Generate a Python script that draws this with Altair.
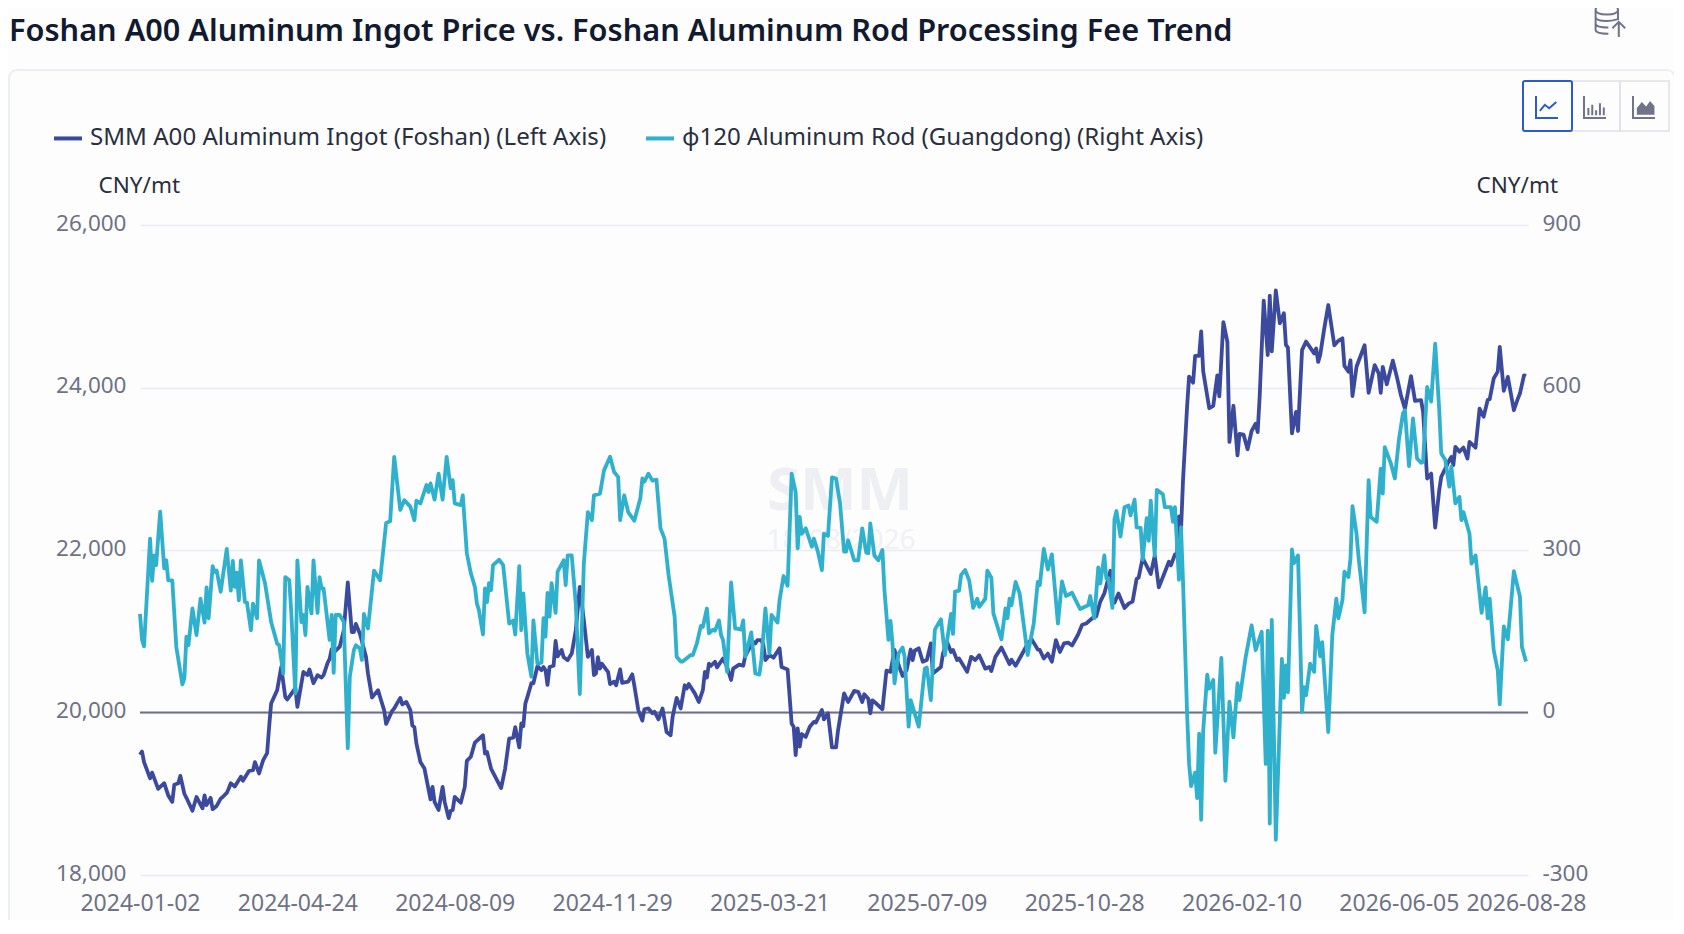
import altair as alt
import pandas as pd

TITLE = "Foshan A00 Aluminum Ingot Price vs. Foshan Aluminum Rod Processing Fee Trend"
INGOT = "SMM A00 Aluminum Ingot (Foshan) (Left Axis)"
ROD = "φ120 Aluminum Rod (Guangdong) (Right Axis)"
UNIT = "CNY/mt"
FONT = "Noto Sans"

tick_idx = [0, 78, 156, 234, 312, 390, 468, 546, 624, 687]
tick_labels = ["2024-01-02", "2024-04-24", "2024-08-09", "2024-11-29", "2025-03-21",
               "2025-07-09", "2025-10-28", "2026-02-10", "2026-06-05", "2026-08-28"]
left_ticks = [18000, 20000, 22000, 24000, 26000]
left_labels = ["18,000", "20,000", "22,000", "24,000", "26,000"]
right_ticks = [-300, 0, 300, 600, 900]
right_labels = ["-300", "0", "300", "600", "900"]

price_idx = [0,1,2,5,6,9,12,14,16,17,19,20,22,23,26,28,31,32,33,35,36,38,40,41,43,44,45,47,50,51,54,56,57,59,61,63,64,65,68,70,72,73,75,77,78,81,83,84,86,88,90,91,93,94,95,97,99,101,103,105,106,107,109,
112,113,115,118,119,121,122,125,126,129,130,132,134,135,136,137,139,141,144,145,146,148,150,151,153,154,155,156,159,161,162,164,166,170,171,172,174,179,181,183,185,186,188,189,190,191,192,194,195,197,199,200,201,202,203,205,206,207,209,210,212,214,216,218,220,222,224,225,
226,227,228,229,231,232,233,235,236,238,239,242,244,245,247,249,250,252,254,255,257,259,261,263,264,266,268,270,271,272,275,277,279,280,281,282,283,285,286,289,291,293,294,297,299,300,302,303,305,306,308,309,310,312,314,317,318,321,323,324,325,326,327,328,330,332,334,335,338,339,341,343,
345,346,349,351,354,356,358,359,361,362,363,365,368,370,372,374,376,378,380,382,383,384,386,388,390,392,393,397,398,400,402,403,405,406,410,412,414,416,419,421,422,424,427,431,432,434,436,439,440,442,445,446,448,450,452,454,456,458,
460,462,465,467,469,472,474,476,478,481,482,483,485,488,490,492,494,495,497,501,503,505,510,511,513,514,515,516,517,519,520,522,523,525,526,527,530,532,534,535,537,539,540,542,544,545,547,549,551,553,554,555,557,559,560,561,563,565,567,568,569,
571,573,574,576,578,582,583,584,585,587,589,592,594,596,597,599,600,601,603,607,609,612,614,615,616,618,621,623,625,627,630,632,635,636,638,640,642,644,645,649,650,651,652,654,656,658,659,662,664,666,668,669,671,673,674,676,678,681,683,684,686,687]

price_val = [19480,19520,19390,19190,19260,19060,19130,18980,18900,19110,19130,19220,19000,18950,18790,18960,18820,18980,18860,18950,18810,18850,18940,18960,19010,19065,19130,19090,19210,19160,19280,19290,19390,19250,19410,19500,19820,20110,20275,20560,20190,20160,20230,20300,20070,20500,20460,20530,20360,20460,20430,20460,20610,20660,20780,20760,20810,21010,21600,20990,20990,21090,20970,
20690,20480,20185,20275,20190,20030,19860,20020,20050,20180,20100,20130,20030,19840,19820,19620,19390,19310,18930,19085,18900,18800,19085,18900,18700,18790,18800,18960,18890,19085,19405,19455,19630,19720,19495,19515,19310,19070,19310,19680,19690,19820,19570,19865,19830,20110,20190,20360,20360,20570,20520,20560,20520,20340,20560,20575,20880,20690,20770,20680,20645,20725,21010,21545,21135,20685,20770,20460,
20480,20680,20540,20600,20530,20500,20350,20380,20335,20530,20365,20380,20470,20335,20030,19900,20040,20050,19990,20010,19915,20050,19760,19720,19945,20180,20050,20335,20295,20350,20235,20130,20275,20500,20430,20600,20575,20625,20555,20665,20560,20400,20540,20590,20575,20695,20790,20890,20850,20890,20890,20830,20645,20705,20675,20790,20560,20530,19865,19825,19475,19805,19580,19735,19700,19825,19885,19875,20030,19915,19990,19570,
19570,19780,20235,20130,20265,20255,20130,20225,20170,19990,20150,20110,20040,20515,20500,20770,20585,20450,20520,20775,20645,20760,20790,20625,20645,20850,20480,20560,20725,20870,20745,20770,20645,20665,20500,20685,20645,20705,20540,20560,20510,20685,20800,20595,20650,20575,20665,20800,20850,20900,20775,20770,20665,20725,20625,20890,20745,20850,
20860,20825,20960,21080,21095,21160,21185,21365,21465,21745,21385,21350,21465,21285,21340,21365,21645,21660,21900,21705,21930,21540,21855,21810,21945,21945,22415,22235,22860,23755,24135,24060,24390,24390,24690,24200,23745,23775,24150,23890,24805,24560,23330,23775,23165,23430,23420,23240,23465,23555,23450,23890,25070,24400,25130,24445,25195,24790,24915,24525,24490,
23435,23700,23465,24460,24565,24420,24480,24315,24400,24725,25015,24520,24575,24605,24265,24195,24335,23895,24255,24520,23935,24275,24175,23935,24255,24040,24330,24130,23905,23740,24140,23835,23845,23700,22880,22940,22275,22735,22900,23105,23145,23045,23270,23210,23260,23125,23330,23260,23740,23640,23845,23855,24110,24195,24500,23960,24130,23720,23865,23925,24150,24140]

fee_idx = [0,1,2,5,6,7,8,10,12,13,14,16,18,21,22,23,24,26,28,30,32,33,34,36,37,38,40,43,45,46,47,48,49,50,52,53,55,56,58,59,62,65,68,69,71,72,74,75,77,78,80,81,82,83,85,86,88,89,90,91,94,95,96,97,99,101,103,104,106,107,109,110,111,113,116,
119,122,124,126,129,131,134,136,137,139,142,143,144,146,148,150,152,154,155,156,159,160,162,164,166,167,168,170,171,172,173,174,175,178,180,183,185,186,188,189,190,192,194,195,197,199,200,201,202,203,204,206,207,210,211,212,214,216,218,220,222,224,225,
228,230,233,235,237,238,240,242,245,248,249,250,252,254,256,258,260,262,265,266,268,269,273,274,276,278,279,281,282,284,285,287,288,289,291,293,295,296,298,299,300,303,305,307,308,310,312,313,316,317,319,321,323,325,326,327,328,330,333,334,336,338,339,341,343,
345,347,349,350,351,354,356,358,360,361,362,364,366,368,369,371,372,373,374,376,378,379,381,382,386,389,390,392,394,397,399,402,403,404,406,407,409,411,413,415,416,419,420,422,423,427,429,430,431,432,434,436,440,443,445,446,448,450,452,455,
457,459,462,466,470,471,473,475,476,478,479,480,482,483,484,486,488,490,491,493,494,496,497,499,500,501,503,504,507,508,511,512,513,515,516,517,519,520,521,523,524,525,526,527,529,530,532,533,536,538,540,542,544,545,548,551,553,556,558,559,560,561,563,566,567,568,569,
571,572,574,576,577,578,580,582,583,585,586,589,591,593,594,596,597,599,600,601,603,604,607,609,610,613,615,616,617,620,622,624,626,627,629,631,633,635,636,638,640,642,644,645,647,649,650,652,654,655,656,659,660,662,665,667,668,669,671,673,674,676,678,681,684,685,687]

fee_val = [182,134,122,321,243,290,272,371,266,281,244,244,121,52,63,140,124,192,143,210,166,231,174,270,260,262,223,302,225,280,232,258,207,281,204,203,152,201,174,281,238,167,127,124,72,250,244,183,35,281,167,180,143,232,183,281,184,250,229,229,134,180,73,180,180,167,-66,66,115,124,118,97,182,155,262,
244,350,353,472,374,392,380,355,391,386,420,407,423,393,441,393,472,414,429,386,383,401,294,257,232,201,189,144,229,204,239,226,272,282,272,164,170,144,270,152,220,109,66,170,90,92,174,140,221,177,239,184,260,281,235,290,290,201,34,275,370,355,401,
404,447,472,444,435,355,401,370,354,395,432,426,441,428,430,340,321,254,177,103,94,94,106,106,127,160,158,192,146,153,151,170,143,134,75,240,155,155,153,170,103,148,72,70,97,192,109,180,166,207,252,234,441,407,303,361,330,340,306,321,297,263,330,326,434,
432,386,297,297,318,281,281,340,295,294,349,290,281,300,226,134,169,127,54,109,120,103,-26,23,-26,81,83,23,153,172,106,182,145,223,225,254,263,244,193,210,195,210,262,249,183,135,192,174,210,198,241,220,106,164,241,235,302,264,292,164,
242,215,221,191,198,215,174,268,238,290,247,248,193,356,372,325,379,382,364,393,342,341,282,359,317,391,289,411,403,379,379,352,379,245,342,242,0,-94,-136,-111,-158,-39,-198,-34,70,44,60,-74,101,-126,20,-46,54,23,101,161,115,149,-95,151,-205,171,-235,99,27,87,37,
301,276,290,1,47,32,90,75,160,104,130,-36,143,210,174,207,260,250,284,381,330,287,185,429,361,352,450,404,490,460,432,503,552,558,455,543,469,461,463,601,574,681,558,478,466,417,454,386,398,355,370,330,275,290,184,231,174,210,115,78,15,159,135,261,214,121,94]

n = min(len(price_idx), len(price_val))
m = min(len(fee_idx), len(fee_val))
price_df = pd.DataFrame({"idx": price_idx[:n], "value": price_val[:n], "series": INGOT})
fee_df = pd.DataFrame({"idx": fee_idx[:m], "value": fee_val[:m], "series": ROD})
one = pd.DataFrame({"a": [0]})


def label_map(keys, labels):
    return "{" + ",".join(f"'{k}':'{t}'" for k, t in zip(keys, labels)) + "}[''+datum.value]"


x_enc = alt.X("idx:Q", scale=alt.Scale(domain=[0, 688], nice=False, zero=False),
              axis=alt.Axis(values=tick_idx, title=None, grid=False, ticks=False, domain=False,
                            labelExpr=label_map(tick_idx, tick_labels),
                            labelOverlap=False, labelFlush=False, labelFont=FONT, labelFontSize=23,
                            labelColor="#6F7285", labelPadding=17))
color_enc = alt.Color("series:N",
                      scale=alt.Scale(domain=[INGOT, ROD], range=["#3C4A9E", "#2FB0CC"]),
                      sort=[INGOT, ROD],
                      legend=alt.Legend(title=None, orient="none", legendX=-88, legendY=-103,
                                        direction="horizontal", columns=2, columnPadding=31,
                                        symbolType="stroke", symbolSize=784, symbolStrokeWidth=4,
                                        labelFont=FONT, labelFontSize=24.1, labelColor="#2A2F3E",
                                        labelLimit=800, labelOffset=6))

price_line = alt.Chart(price_df).mark_line(strokeWidth=3.8, strokeJoin="round").encode(
    x=x_enc,
    y=alt.Y("value:Q", scale=alt.Scale(domain=[18000, 26000], nice=False, zero=False),
            axis=alt.Axis(values=left_ticks, orient="left", labelExpr=label_map(left_ticks, left_labels),
                          grid=True, gridColor="#E9EBF5",
                          gridWidth=1.5, ticks=False, domain=False, labelFont=FONT, labelFontSize=22.5,
                          labelColor="#6F7285", labelPadding=14, labelOffset=-2,
                          title=UNIT, titleAngle=0, titleAlign="left", titleBaseline="alphabetic",
                          titleX=-42, titleY=-33, titleFont=FONT, titleFontSize=22.5,
                          titleFontWeight="normal", titleColor="#2A2F3E")),
    color=color_enc)

fee_line = alt.Chart(fee_df).mark_line(strokeWidth=3.8, strokeJoin="round").encode(
    x=x_enc,
    y=alt.Y("value:Q", scale=alt.Scale(domain=[-300, 900], nice=False, zero=False),
            axis=alt.Axis(values=right_ticks, orient="right", labelExpr=label_map(right_ticks, right_labels),
                          grid=False, ticks=False, domain=False,
                          labelFont=FONT, labelFontSize=22.5, labelColor="#6F7285", labelPadding=14,
                          labelOffset=-2, title=UNIT, titleAngle=0, titleAlign="left",
                          titleBaseline="alphabetic", titleX=-52, titleY=-33, titleFont=FONT,
                          titleFontSize=22.5, titleFontWeight="normal", titleColor="#2A2F3E")),
    color=color_enc)


def vmark(mark, **enc):
    return alt.Chart(one, mark=mark).encode(**{k: alt.value(v) for k, v in enc.items()})


OX, OY = 140, 225
zero_rule = vmark(alt.MarkDef(type="rule", color="#6E7182", strokeWidth=2),
                  x=0, x2=1388, y=712.5 - OY)
card = vmark(alt.MarkDef(type="rect", fillOpacity=0, stroke="#ECEEF6", strokeWidth=2, cornerRadius=8),
             x=9 - OX, x2=1675 - OX, y=70 - OY, y2=960 - OY)
wm1 = vmark(alt.MarkDef(type="text", text="SMM", font=FONT, fontSize=60, fontWeight="bold",
                        color="#EEEFF2", align="center", baseline="alphabetic"),
            x=840 - OX, y=510 - OY)
wm2 = vmark(alt.MarkDef(type="text", text="18/08/2026", font=FONT, fontSize=28,
                        color="#F0F1F4", align="center", baseline="middle"),
            x=841 - OX, y=541 - OY)
page_title = vmark(alt.MarkDef(type="text", text=TITLE, font=FONT, fontSize=30.7, fontWeight=600,
                               color="#111A2E", align="left", baseline="alphabetic"),
                   x=9 - OX, y=41 - OY)
btn2 = vmark(alt.MarkDef(type="rect", fillOpacity=0, stroke="#DFE1E8", strokeWidth=1.5),
             x=1572 - OX, x2=1620 - OX, y=81 - OY, y2=131 - OY)
btn3 = vmark(alt.MarkDef(type="rect", fillOpacity=0, stroke="#DFE1E8", strokeWidth=1.5),
             x=1620 - OX, x2=1669 - OX, y=81 - OY, y2=131 - OY)
btn1 = vmark(alt.MarkDef(type="rect", fillOpacity=0, stroke="#2A5BD0", strokeWidth=2, cornerRadius=2),
             x=1523 - OX, x2=1572 - OX, y=81 - OY, y2=131 - OY)


def icon(path, cx, cy, size, color, filled=False, sw=2):
    kw = dict(fill=color, strokeWidth=0) if filled else dict(stroke=color, strokeWidth=sw, fill="transparent")
    return vmark(alt.MarkDef(type="point", shape=path, size=size, filled=filled, opacity=1, **kw),
                 x=cx - OX, y=cy - OY)


AXES = "M-1,-1V1H1"
icons = [
    icon(AXES + "M-.65,.35L-.2,-.2L.2,.12L.85,-.45", 1547, 107, 484, "#2A5BD0"),
    icon(AXES + "M-.6,.75V.1M-.25,.75V-.2M.1,.75V.3M.45,.75V-.35M.8,.75V.05", 1595, 107, 484, "#70748A"),
    icon(AXES, 1644, 107, 484, "#70748A"),
    icon("M-.65,.7L-.65,.1L-.2,-.45L.2,-.05L.55,-.55L.95,-.1V.7Z", 1644, 107, 484, "#70748A", filled=True),
    icon("M-.9,-.7Q-.9,-1 -.2,-1Q.5,-1 .5,-.7Q.5,-.4 -.2,-.4Q-.9,-.4 -.9,-.7V.55Q-.9,.8 -.1,.8M.5,-.7V-.05"
         "M-.9,-.25Q-.9,0 -.2,0Q.1,0 .45,-.1M-.9,.15Q-.9,.4 -.1,.4M.55,1V.05M.15,.45L.55,.05L.95,.45",
         1610, 21, 1024, "#70748A"),
]

chart = alt.layer(card, wm1, wm2, zero_rule, price_line, fee_line, page_title, btn2, btn3, btn1, *icons).resolve_scale(
    y="independent", x="shared", color="shared"
).properties(
    width=1388, height=650,
    autosize=alt.AutoSizeParams(type="none"),
    padding={"left": 132, "top": 217, "right": 146, "bottom": 45},
    background="#FDFDFE",
).configure_view(stroke=None)

chart.save("out.html", embed_options={"renderer": "svg", "actions": False})
